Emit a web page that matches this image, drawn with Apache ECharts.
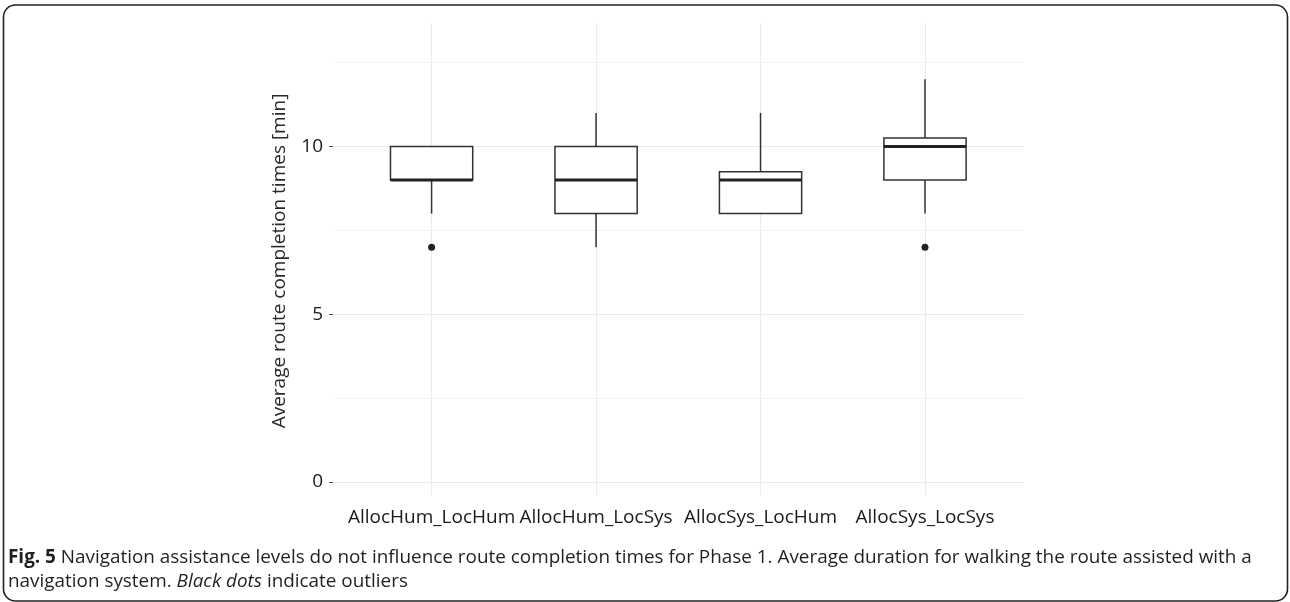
<!DOCTYPE html>
<html>
<head>
<meta charset="utf-8">
<script src="https://cdn.jsdelivr.net/npm/echarts@6/dist/echarts.min.js"></script>
<style>
  html, body { margin: 0; padding: 0; background: #fff; }
  #chart { width: 1290px; height: 602px; }
</style>
</head>
<body>
<div id="chart"></div>
<script>
// Route completion times per navigation assistance condition (minutes)
const categories = ['AllocHum_LocHum', 'AllocHum_LocSys', 'AllocSys_LocHum', 'AllocSys_LocSys'];
const whiskerLow  = [8, 7, 8, 8];
const lowerQuart  = [9, 8, 8, 9];
const medians     = [9, 9, 9, 10];
const upperQuart  = [10, 10, 9.25, 10.25];
const whiskerHigh = [10, 11, 11, 12];

// Outliers: group name and value
const outlierGroups = ['AllocHum_LocHum', 'AllocSys_LocSys'];
const outlierValues = [7, 7];

const yTicks = [0, 5, 10];

const axisFont = 'Open Sans';
const boxData = categories.map((c, i) => [i, whiskerLow[i], lowerQuart[i], medians[i], upperQuart[i], whiskerHigh[i]]);
const outlierData = outlierGroups.map((g, k) => [categories.indexOf(g), outlierValues[k]]);

function renderBox(params, api) {
  const idx = api.value(0);
  const cx = api.coord([idx, 0])[0];
  const half = api.size([1, 0])[0] * 0.25;
  const yLo = api.coord([idx, api.value(1)])[1];
  const yQ1 = api.coord([idx, api.value(2)])[1];
  const yMed = api.coord([idx, api.value(3)])[1];
  const yQ3 = api.coord([idx, api.value(4)])[1];
  const yHi = api.coord([idx, api.value(5)])[1];
  const stroke = { stroke: '#333', lineWidth: 1.5 };
  const children = [];
  if (api.value(5) > api.value(4)) {
    children.push({ type: 'line', shape: { x1: cx, y1: yHi, x2: cx, y2: yQ3 }, style: stroke });
  }
  if (api.value(1) < api.value(2)) {
    children.push({ type: 'line', shape: { x1: cx, y1: yQ1, x2: cx, y2: yLo }, style: stroke });
  }
  children.push({
    type: 'rect',
    shape: { x: cx - half, y: yQ3, width: half * 2, height: yQ1 - yQ3 },
    style: { fill: '#fff', stroke: '#333', lineWidth: 1.5 }
  });
  children.push({
    type: 'line',
    shape: { x1: cx - half, y1: yMed, x2: cx + half, y2: yMed },
    style: { stroke: '#222', lineWidth: 3 }
  });
  return { type: 'group', children: children };
}

const chart = echarts.init(document.getElementById('chart'), null, { renderer: 'canvas' });

chart.setOption({
  backgroundColor: '#fff',
  animation: false,
  grid: [
    // major horizontal grid lines and y labels
    { left: 333, right: 266, top: 146.5, bottom: 120 },
    // minor horizontal grid lines
    { left: 333, right: 266, top: 62.6, bottom: 203.9 },
    // boxes and categories
    { left: 431.6, right: 365, top: 23, bottom: 107 }
  ],
  xAxis: [
    { gridIndex: 0, type: 'value', show: false, min: 0, max: 1 },
    { gridIndex: 1, type: 'value', show: false, min: 0, max: 1 },
    {
      gridIndex: 2, type: 'category', data: categories, boundaryGap: false,
      axisLine: { show: false }, axisTick: { show: false },
      axisLabel: { interval: 0, color: '#1a1a1a', fontFamily: axisFont, fontSize: 19, margin: 13 },
      splitLine: { show: true, interval: 0, lineStyle: { color: '#ebebeb', width: 1 } }
    }
  ],
  yAxis: [
    {
      gridIndex: 0, type: 'value', min: yTicks[0], max: yTicks[yTicks.length - 1], interval: 5,
      axisLine: { show: false },
      axisTick: { show: true, length: 4, lineStyle: { color: '#555', width: 1 } },
      axisLabel: { color: '#1a1a1a', fontFamily: axisFont, fontSize: 19, margin: 10 },
      splitLine: { show: true, lineStyle: { color: '#ebebeb', width: 1 } }
    },
    {
      gridIndex: 1, type: 'value', min: 2.5, max: 12.5, interval: 5,
      axisLine: { show: false }, axisTick: { show: false }, axisLabel: { show: false },
      splitLine: { show: true, lineStyle: { color: '#f3f3f3', width: 1 } }
    },
    {
      gridIndex: 2, type: 'value', min: -0.387, max: 13.68, show: false,
      splitLine: { show: false }
    }
  ],
  series: [
    {
      type: 'custom', xAxisIndex: 2, yAxisIndex: 2,
      renderItem: renderBox,
      encode: { x: 0, y: [1, 2, 3, 4, 5] },
      data: boxData, z: 3
    },
    {
      type: 'scatter', xAxisIndex: 2, yAxisIndex: 2,
      symbol: 'circle', symbolSize: 7,
      itemStyle: { color: '#222', opacity: 1 },
      data: outlierData, z: 4
    }
  ],
  graphic: [
    {
      type: 'text', x: 280, y: 261, rotation: Math.PI / 2,
      style: {
        text: 'Average route completion times [min]',
        fontFamily: axisFont, fontSize: 19, fill: '#2a2a2a',
        align: 'center', verticalAlign: 'middle'
      }
    },
    {
      type: 'text', x: 8, y: 546,
      style: {
        text: '{b|Fig. 5} Navigation assistance levels do not influence route completion times for Phase 1. Average duration for walking the route assisted with a\nnavigation system. {i|Black dots} indicate outliers',
        fontFamily: 'Open Sans', fontSize: 18.9, fill: '#231f20', lineHeight: 24,
        rich: {
          b: { fontWeight: 'bold', fontFamily: 'Open Sans', fontSize: 18.9, fill: '#231f20', lineHeight: 24 },
          i: { fontStyle: 'italic', fontFamily: 'Open Sans', fontSize: 18.9, fill: '#231f20', lineHeight: 24 }
        }
      }
    },
    {
      type: 'rect', z: 10,
      shape: { x: 3.5, y: 5, width: 1284, height: 596, r: 12 },
      style: { fill: 'none', stroke: '#222', lineWidth: 1.6 }
    }
  ]
});
</script>
</body>
</html>
